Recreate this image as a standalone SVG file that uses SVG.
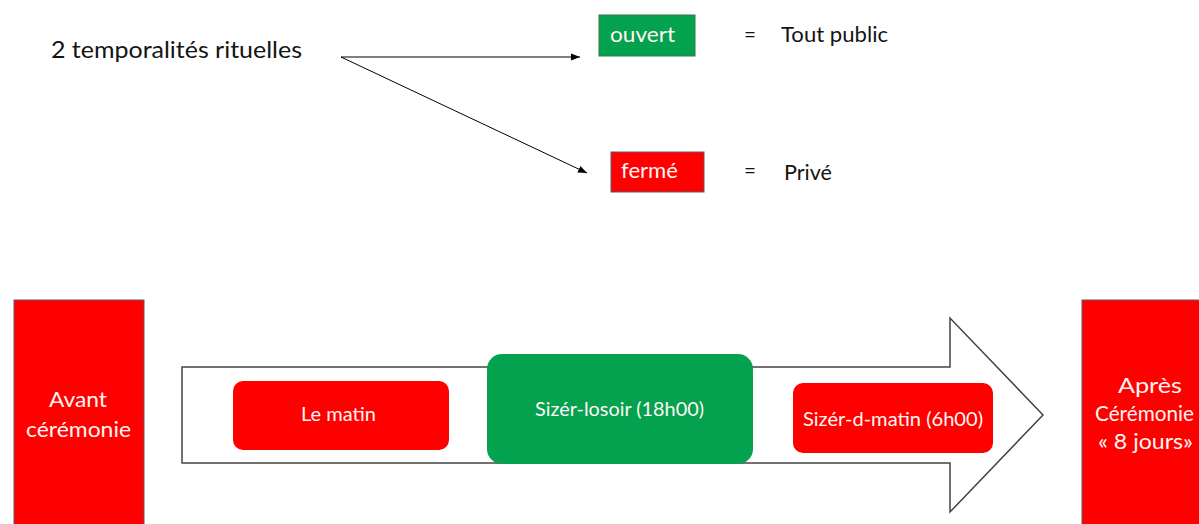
<svg xmlns="http://www.w3.org/2000/svg" width="1199" height="524" viewBox="0 0 1199 524">
  <defs>
    <marker id="tip" viewBox="0 0 10 10" refX="10" refY="5" markerWidth="9" markerHeight="9" markerUnits="userSpaceOnUse" orient="auto">
      <path d="M0,1 L10,5 L0,9 Z" fill="#000"/>
    </marker>
    <style>
      text { font-family: Lato, "Open Sans", "Liberation Sans", sans-serif; }
      .dark { fill: #141414; }
      .light { fill: #fff6f4; }
      .red { fill: #ff0000; }
      .green { fill: #04a24f; }
      .edge { stroke: #5a5a6e; stroke-width: 1; }
      .conn { stroke: #000; stroke-width: 1; fill: none; marker-end: url(#tip); }
    </style>
  </defs>
  <rect width="1199" height="524" fill="#fff"/>

  <!-- legend -->
  <g id="title">
    <text class="dark" x="51" y="58" font-size="23" textLength="251" lengthAdjust="spacingAndGlyphs">2 temporalités rituelles</text>
  </g>
  <g id="ouvert">
    <rect class="green" x="599" y="15" width="96" height="41" stroke="#2e7d4a" stroke-width="1"/>
    <text class="light" x="610" y="42" font-size="21" textLength="65" lengthAdjust="spacingAndGlyphs">ouvert</text>
    <text class="dark" x="744" y="42" font-size="21" textLength="12" lengthAdjust="spacingAndGlyphs">=</text>
    <text class="dark" x="781" y="42" font-size="21" textLength="107" lengthAdjust="spacingAndGlyphs">Tout public</text>
  </g>
  <g id="ferme">
    <rect class="red edge" x="611" y="152" width="93" height="40"/>
    <text class="light" x="621" y="178" font-size="21" textLength="57" lengthAdjust="spacingAndGlyphs">fermé</text>
    <text class="dark" x="744" y="178" font-size="21" textLength="12" lengthAdjust="spacingAndGlyphs">=</text>
    <text class="dark" x="784" y="180" font-size="21" textLength="48" lengthAdjust="spacingAndGlyphs">Privé</text>
  </g>

  <g id="connectors">
    <line class="conn" x1="341" y1="57" x2="580" y2="57"/>
    <line class="conn" x1="341" y1="57" x2="587" y2="173"/>
  </g>

  <!-- timeline -->
  <g id="avant">
    <rect class="red edge" x="14" y="300" width="130" height="230"/>
    <text class="light" x="49" y="407" font-size="22" textLength="58" lengthAdjust="spacingAndGlyphs">Avant</text>
    <text class="light" x="26" y="437" font-size="22" textLength="105" lengthAdjust="spacingAndGlyphs">cérémonie</text>
  </g>

  <g id="fleche">
    <path d="M182,367 H950 V318 L1043,415 L950,512 V463 H182 Z" fill="#fff" stroke="#444" stroke-width="1.5" stroke-linejoin="miter"/>
  </g>

  <g id="matin">
    <rect class="red" x="233" y="381" width="216" height="69" rx="10"/>
    <text class="light" x="301" y="421" font-size="19.5" textLength="75" lengthAdjust="spacingAndGlyphs">Le matin</text>
  </g>

  <g id="sizer-losoir">
    <rect class="green" x="487" y="354" width="266" height="110" rx="15"/>
    <text class="light" x="535" y="416" font-size="19.5" textLength="169" lengthAdjust="spacingAndGlyphs">Sizér-losoir (18h00)</text>
  </g>

  <g id="sizer-d-matin">
    <rect class="red" x="793" y="383" width="200" height="70" rx="10"/>
    <text class="light" x="803" y="426" font-size="19.5" textLength="180" lengthAdjust="spacingAndGlyphs">Sizér-d-matin (6h00)</text>
  </g>

  <g id="apres">
    <rect class="red edge" x="1082" y="300" width="130" height="230"/>
    <text class="light" x="1118" y="393" font-size="22" textLength="64" lengthAdjust="spacingAndGlyphs">Après</text>
    <text class="light" x="1095" y="421" font-size="22" textLength="99" lengthAdjust="spacingAndGlyphs">Cérémonie</text>
    <text class="light" x="1098" y="449" font-size="22" textLength="95" lengthAdjust="spacingAndGlyphs">« 8 jours»</text>
  </g>
</svg>
